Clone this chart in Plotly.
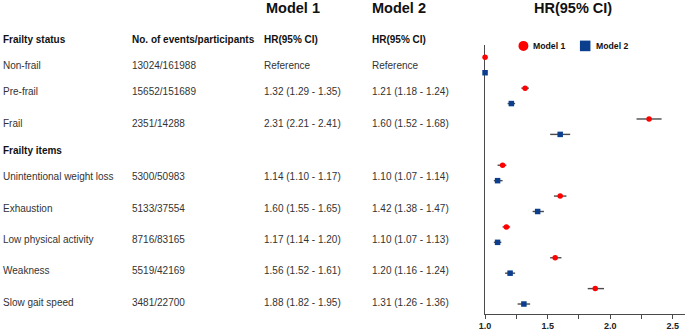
import plotly.graph_objects as go

W, H = 685, 332

# ---------------- data ----------------
categories = ["Non-frail", "Pre-frail", "Frail",
              "Unintentional weight loss", "Exhaustion", "Low physical activity",
              "Weakness", "Slow gait speed"]
groups = ["status", "status", "status", "items", "items", "items", "items", "items"]
events = ["13024/161988", "15652/151689", "2351/14288",
          "5300/50983", "5133/37554", "8716/83165", "5519/42169", "3481/22700"]

hr1 = [1.00, 1.32, 2.31, 1.14, 1.60, 1.17, 1.56, 1.88]
lo1 = [1.00, 1.29, 2.21, 1.10, 1.55, 1.14, 1.52, 1.82]
hi1 = [1.00, 1.35, 2.41, 1.17, 1.65, 1.20, 1.61, 1.95]

hr2 = [1.00, 1.21, 1.60, 1.10, 1.42, 1.10, 1.20, 1.31]
lo2 = [1.00, 1.18, 1.52, 1.07, 1.38, 1.07, 1.16, 1.26]
hi2 = [1.00, 1.24, 1.68, 1.14, 1.47, 1.13, 1.24, 1.36]

is_reference = [True, False, False, False, False, False, False, False]

section_titles = ["Frailty status", "Frailty items"]
column_titles = ["No. of events/participants", "HR(95% CI)", "HR(95% CI)"]
model_names = ["Model 1", "Model 2"]
tick_vals = [1.0, 1.25, 1.5, 1.75, 2.0, 2.25, 2.5]
tick_text = ["1.0", "", "1.5", "", "2.0", "", "2.5"]

# ---------------- layout constants ----------------
FONT = "Liberation Sans, Arial, sans-serif"
RED = "#ff0000"
BLUE = "#0b3f8e"
LINE = "#4a4a4a"
TEXT_SHIFT = -4  # compensate annotation text offset

# table layout (pixel positions)
COL_X = [1.5, 131, 264.5, 373]
HEADER_Y = 39.3
SECTION_Y = {"status": 39.3, "items": 150.3}
ROW_Y = [65.7, 91.7, 123.3, 176.7, 208, 239.3, 270.3, 302]

# forest plot area (pixels)
PX_LEFT, PX_RIGHT = 483.3, 685
PX_TOP, PX_BOTTOM = 45, 314
SLOT0_Y, SLOT_STEP = 57.3, 15.42
PX_PER_UNIT = 126.3


def px_x(p):
    return p / W


def px_y(p):
    return 1 - p / H


# slot positions: each row has two slots (model 1, model 2); section header takes one
slot_m1, slot_m2 = [], []
s = 0
prev = groups[0]
for g in groups:
    if g != prev:
        s += 1
        prev = g
    slot_m1.append(s)
    slot_m2.append(s + 1)
    s += 2

y_top_slot = (PX_TOP - SLOT0_Y) / SLOT_STEP
y_bot_slot = (PX_BOTTOM - SLOT0_Y) / SLOT_STEP
x_max = 1.0 + (PX_RIGHT - PX_LEFT) / PX_PER_UNIT

fig = go.Figure()


def add_model(hr, lo, hi, slots, color, symbol, name):
    fig.add_trace(go.Scatter(
        x=hr, y=slots, mode="markers", name=name, showlegend=False,
        marker=dict(color=color, size=5.5, symbol=symbol, line=dict(width=0)),
        error_x=dict(type="data", symmetric=False,
                     array=[h - m for m, h in zip(hr, hi)],
                     arrayminus=[m - l for m, l in zip(hr, lo)],
                     color=LINE, thickness=1.4, width=0),
        cliponaxis=False, hoverinfo="skip",
    ))


add_model(hr1, lo1, hi1, slot_m1, RED, "circle", model_names[0])
add_model(hr2, lo2, hi2, slot_m2, BLUE, "square", model_names[1])

annotations = []


def text(px, py, t, size=10, bold=False, color="#333333", shift=TEXT_SHIFT):
    annotations.append(dict(
        x=px_x(px), y=px_y(py), xref="paper", yref="paper", text=t,
        showarrow=False, xanchor="left", yanchor="middle",
        borderpad=0, borderwidth=0, xshift=shift,
        font=dict(family=FONT, size=size, color=color,
                  weight="bold" if bold else "normal")))


# top headers
text(266, 8, model_names[0], size=14.5, bold=True, color="#111111")
text(373, 8, model_names[1], size=14.5, bold=True, color="#111111")
text(537, 8, "HR(95% CI)", size=14.5, bold=True, color="#111111")

# column headers
for cx, t in zip(COL_X[1:], column_titles):
    text(cx, HEADER_Y, t, bold=True, color="#111111")

# section titles
for key, t in zip(["status", "items"], section_titles):
    text(COL_X[0], SECTION_Y[key], t, bold=True, color="#111111")

# rows
for i, cat in enumerate(categories):
    y = ROW_Y[i]
    text(COL_X[0], y, cat)
    text(COL_X[1], y, events[i])
    if is_reference[i]:
        t1 = t2 = "Reference"
    else:
        t1 = f"{hr1[i]:.2f} ({lo1[i]:.2f} - {hi1[i]:.2f})"
        t2 = f"{hr2[i]:.2f} ({lo2[i]:.2f} - {hi2[i]:.2f})"
    text(COL_X[2], y, t1)
    text(COL_X[3], y, t2)

# legend (drawn manually)
LEG_Y = 45.9
shapes = [
    dict(type="circle", xref="paper", yref="paper",
         x0=px_x(522 - 5), x1=px_x(522 + 5), y0=px_y(LEG_Y + 5), y1=px_y(LEG_Y - 5),
         fillcolor=RED, line=dict(width=0)),
    dict(type="rect", xref="paper", yref="paper",
         x0=px_x(584.3 - 5.3), x1=px_x(584.3 + 5.3), y0=px_y(LEG_Y + 5.3), y1=px_y(LEG_Y - 5.3),
         fillcolor=BLUE, line=dict(width=0)),
]
text(533, LEG_Y, model_names[0], size=8.7, bold=True, color="#111111", shift=-1)
text(596.5, LEG_Y, model_names[1], size=8.7, bold=True, color="#111111", shift=-1)

fig.update_layout(
    width=W, height=H,
    margin=dict(l=0, r=0, t=0, b=0),
    paper_bgcolor="white", plot_bgcolor="white",
    showlegend=False,
    annotations=annotations,
    shapes=shapes,
    xaxis=dict(
        domain=[px_x(PX_LEFT), 1.0], range=[1.0, x_max],
        showgrid=False, zeroline=False,
        showline=True, linecolor=LINE, linewidth=1.3,
        ticks="outside", ticklen=3.5, tickwidth=1, tickcolor=LINE,
        tickvals=tick_vals, ticktext=tick_text,
        tickfont=dict(family=FONT, size=9, color="#222222", weight="bold"),
        layer="below traces",
    ),
    yaxis=dict(
        domain=[px_y(PX_BOTTOM), px_y(PX_TOP)],
        range=[y_bot_slot, y_top_slot],
        showgrid=False, zeroline=False, showticklabels=False, ticks="",
        showline=True, linecolor=LINE, linewidth=1.3,
        layer="below traces",
    ),
)

fig.write_html(
    "out.html",
    config={"displayModeBar": False},
    post_script="document.body.style.margin='0';document.body.style.padding='0';"
                "document.body.style.overflow='hidden';",
)
